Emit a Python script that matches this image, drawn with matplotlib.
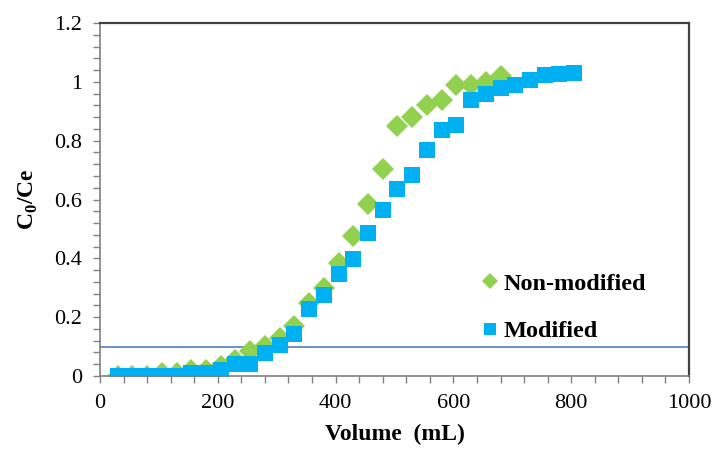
import matplotlib
matplotlib.use("Agg")
import matplotlib.pyplot as plt
from matplotlib.ticker import MultipleLocator, FuncFormatter

# Breakthrough data
volume = [30, 55, 80, 105, 130, 155, 180, 205, 230, 255, 280, 305, 330, 355,
          380, 405, 430, 455, 480, 505, 530, 555, 580, 605, 630, 655, 680,
          705, 730, 755, 780, 805]

non_modified = [0.0, 0.0, 0.0, 0.01, 0.01, 0.02, 0.02, 0.034, 0.054, 0.085,
                0.102, 0.129, 0.17, 0.248, 0.30, 0.385, 0.476, 0.585, 0.704,
                0.85, 0.88, 0.92, 0.94, 0.99, 0.99, 1.0, 1.02]

modified = [0.0, 0.0, 0.0, 0.0, 0.0, 0.01, 0.01, 0.02, 0.04, 0.042, 0.078,
            0.105, 0.143, 0.228, 0.275, 0.347, 0.398, 0.486, 0.563, 0.636,
            0.684, 0.77, 0.838, 0.855, 0.939, 0.958, 0.98, 0.988, 1.005,
            1.024, 1.026, 1.03]

limit = 0.1

plt.rcParams["font.family"] = ["Liberation Serif", "DejaVu Serif"]
plt.rcParams["mathtext.fontset"] = "custom"
plt.rcParams["mathtext.rm"] = "Liberation Serif"
plt.rcParams["mathtext.bf"] = "Liberation Serif:bold"

fig = plt.figure(figsize=(7.16, 4.61), dpi=100)
ax = fig.add_axes([0.1397, 0.1844, 0.8226, 0.7656])

ax.plot(volume[:len(non_modified)], non_modified, "D", color="#92D050",
        markersize=11, markeredgewidth=0, label="Non-modified")
ax.plot(volume, modified, "s", color="#00B0F0",
        markersize=11.5, markeredgewidth=0, label="Modified")
ax.axhline(limit, color="#4472C4", lw=1.1, zorder=1)

ax.set_xlim(0, 1000)
ax.set_ylim(0, 1.2)
ax.xaxis.set_major_locator(MultipleLocator(200))
ax.xaxis.set_minor_locator(MultipleLocator(40))
ax.yaxis.set_major_locator(MultipleLocator(0.2))
ax.yaxis.set_minor_locator(MultipleLocator(0.04))
ax.yaxis.set_major_formatter(FuncFormatter(lambda v, p: "%g" % round(v, 2)))

ax.tick_params(which="both", direction="out", length=5, width=1,
               color="#808080", labelsize=16, pad=8)
ax.tick_params(top=False, right=False)

for side in ["left", "bottom"]:
    ax.spines[side].set_color("#808080")
    ax.spines[side].set_linewidth(1.2)
for side in ["top", "right"]:
    ax.spines[side].set_color("#404040")
    ax.spines[side].set_linewidth(1.6)

ax.set_xlabel("Volume  (mL)", fontsize=17, fontweight="bold", labelpad=8)
ax.set_ylabel(r"C$_\mathbf{0}$/Ce", fontsize=17, fontweight="bold", labelpad=10)

leg = ax.legend(loc="upper left", bbox_to_anchor=(0.613, 0.355), frameon=False,
                prop={"weight": "bold", "size": 17.5}, markerscale=0.75,
                handlelength=0.55, handletextpad=0.3, labelspacing=1.05)

fig.savefig("out.png", dpi=100)
